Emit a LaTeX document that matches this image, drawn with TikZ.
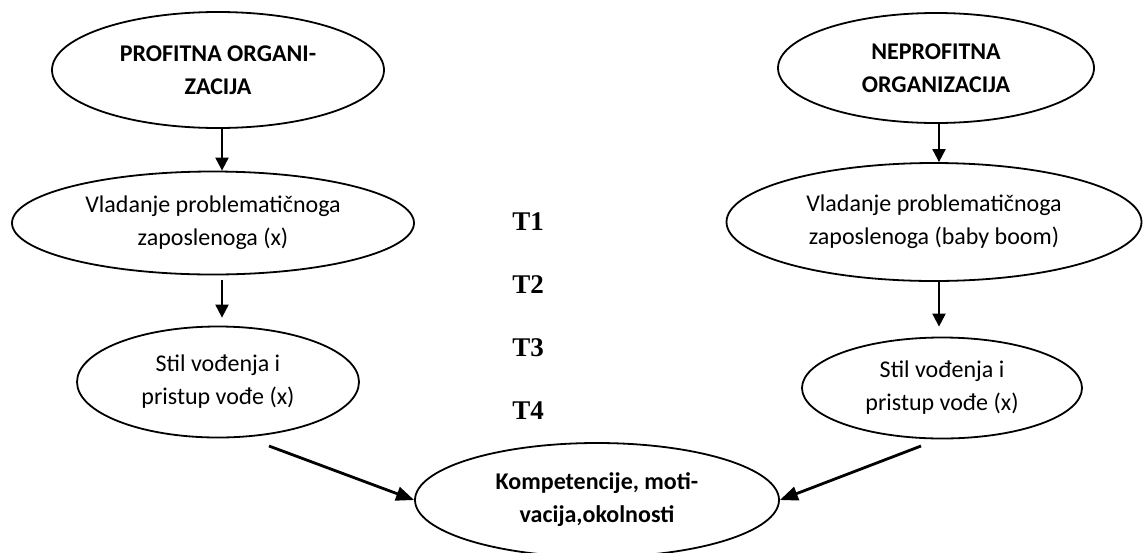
\documentclass[tikz,border=0pt]{standalone}
\usepackage{fontspec}
\setmainfont{Carlito}
\newfontfamily\tlabelfont{Liberation Serif}
\usetikzlibrary{shapes.geometric,arrows.meta,positioning}

\begin{document}
\begin{tikzpicture}[x=0.5pt, y=-0.5pt, node distance=31.5pt,
  oval/.style={ellipse, draw, line width=0.9pt, inner sep=0pt, align=center, font=\fontsize{12}{16.5}\selectfont},
  bold oval/.style={oval, font=\bfseries\fontsize{12}{16.5}\selectfont},
  tlabel/.style={font=\tlabelfont\bfseries\fontsize{13.5}{16}\selectfont},
  arrow/.style={line width=1pt, -{Triangle[length=6.5pt,width=6.5pt]}},
  big arrow/.style={line width=1.4pt, -{Triangle[length=9pt,width=7pt]}}]
        \useasboundingbox (0,0) rectangle (1143,552);
        \node[bold oval, minimum width=166pt, minimum height=58pt] (PO) at (218,70) {PROFITNA ORGANI-\\ZACIJA};
        \node[oval, minimum width=201pt, minimum height=51.5pt] (VL) at (213,223) {Vladanje problematičnoga\\zaposlenoga (x)};
        \node[oval, minimum width=141pt, minimum height=55.5pt] (ST) at (218,382) {Stil vođenja i\\pristup vođe (x)};
        \node[bold oval, minimum width=158pt, minimum height=55pt] (NE) at (936,68) {NEPROFITNA\\ORGANIZACIJA};
        \node[oval, minimum width=207.5pt, minimum height=59pt] (VR) at (934,222) {Vladanje problematičnoga\\zaposlenoga (baby boom)};
        \node[oval, minimum width=140pt, minimum height=50.5pt] (ST2) at (942,388) {Stil vođenja i\\pristup vođe (x)};
        \node[bold oval, minimum width=182pt, minimum height=57pt] (KO) at (597,500) {Kompetencije, moti-\\vacija,okolnosti};
        \node[tlabel] (T1) at (528,222) {T1};
        \node[tlabel, below of=T1] (T2) {T2};
        \node[tlabel, below of=T2] (T3) {T3};
        \node[tlabel, below of=T3] (T4) {T4};
        \coordinate (LX) at (222,0);
        \coordinate (RX) at (939,0);
        \coordinate (DL) at (269,446);
        \coordinate (DR) at (921,446);
        \draw[arrow] (PO.south -| LX) -- (VL.north -| LX);
        \draw[arrow, shorten <=2.5pt, shorten >=4pt] (VL.south -| LX) -- (ST.north -| LX);
        \draw[arrow] (NE.south -| RX) -- (VR.north -| RX);
        \draw[arrow, shorten >=5pt] (VR.south -| RX) -- (ST2.north -| RX);
        \draw[big arrow] (DL) -- (KO.west);
        \draw[big arrow] (DR) -- (KO.east);
  \end{tikzpicture}
\end{document}
